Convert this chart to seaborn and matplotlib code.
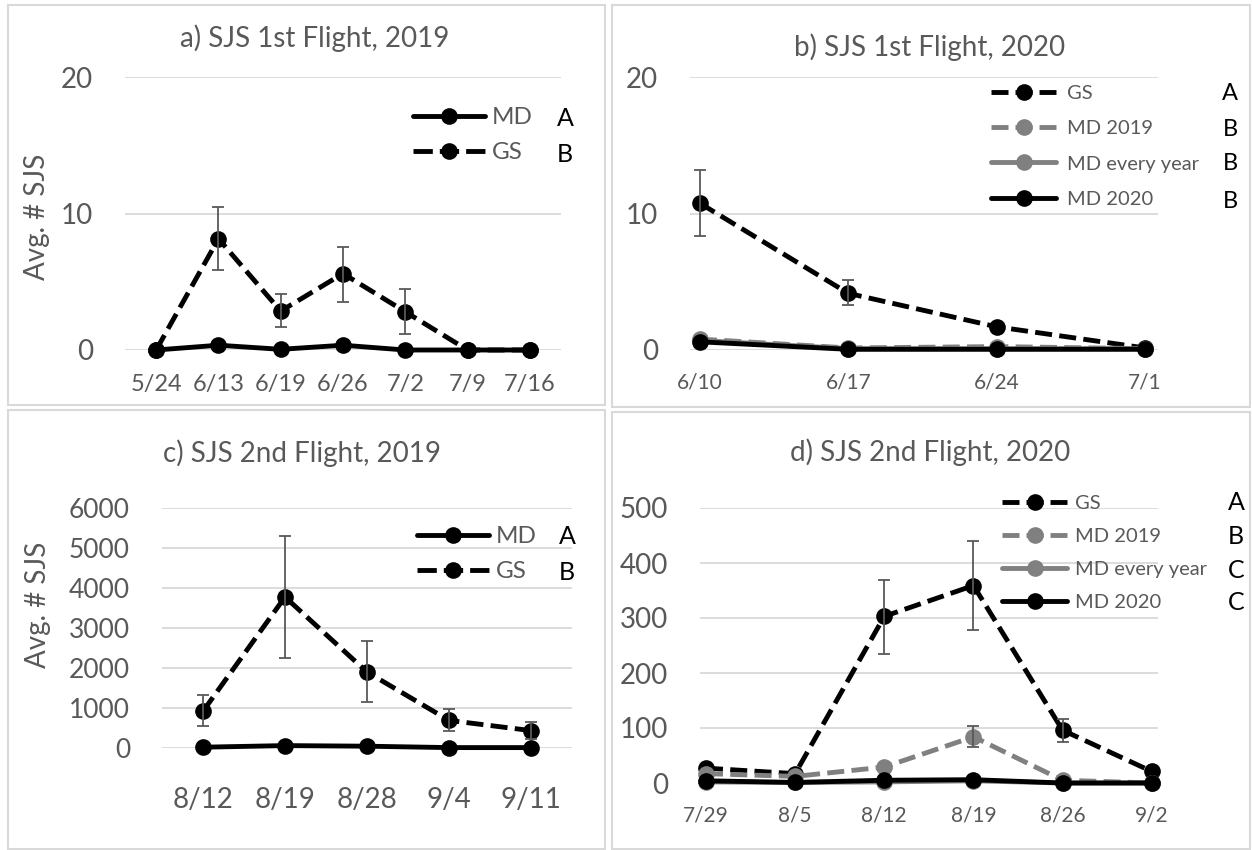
import numpy as np
import pandas as pd
import seaborn as sns
import matplotlib.pyplot as plt
from matplotlib.lines import Line2D
from matplotlib.patches import Rectangle

sns.set_style('white')
plt.rcParams['font.family'] = ['Lato', 'DejaVu Sans']

# ---- data ----
a_dates = ['5/24', '6/13', '6/19', '6/26', '7/2', '7/9', '7/16']
a_md = [0, 0.35, 0.05, 0.35, 0, 0, 0]
a_gs = [0, 8.15, 2.85, 5.6, 2.8, 0, 0]
a_gs_top = [np.nan, 10.5, 4.1, 7.55, 4.45, np.nan, np.nan]
a_gs_bot = [np.nan, 5.85, 1.65, 3.55, 1.2, np.nan, np.nan]
a_letters = ['A', 'B']

b_dates = ['6/10', '6/17', '6/24', '7/1']
b_gs = [10.75, 4.15, 1.7, 0.15]
b_gs_top = [13.2, 5.1, np.nan, np.nan]
b_gs_bot = [8.35, 3.3, np.nan, np.nan]
b_md2019 = [0.8, 0.15, 0.25, 0.1]
b_mdevery = [0.7, 0.1, 0.1, 0.1]
b_md2020 = [0.6, 0.05, 0.05, 0.05]
b_letters = ['A', 'B', 'B', 'B']

c_dates = ['8/12', '8/19', '8/28', '9/4', '9/11']
c_md = [20, 60, 45, 10, 10]
c_gs = [920, 3775, 1900, 690, 435]
c_gs_top = [1335, 5300, 2680, 985, 650]
c_gs_bot = [540, 2250, 1150, 415, 235]
c_letters = ['A', 'B']

d_dates = ['7/29', '8/5', '8/12', '8/19', '8/26', '9/2']
d_gs = [27, 17, 303, 359, 96, 21]
d_gs_top = [np.nan, np.nan, 370, 440, 117, np.nan]
d_gs_bot = [np.nan, np.nan, 234, 279, 74, np.nan]
d_md2019 = [17, 12, 29, 84, 5, 0]
d_md2019_top = [np.nan, np.nan, np.nan, 103, np.nan, np.nan]
d_md2019_bot = [np.nan, np.nan, np.nan, 65, np.nan, np.nan]
d_mdevery = [2, 1, 2, 4, 0, 0]
d_md2020 = [4, 1, 5, 6, 0, 0]
d_letters = ['A', 'B', 'C', 'C']

# ---- styling ----
W, H = 1252, 850
GRAY = '#595959'
GRID = '#d9d9d9'
MID = '#808080'
LW = 3.5
MS = 12
DASH = (3.5, 1.5)
colors = {'MD': 'black', 'GS': 'black', 'MD 2019': MID,
          'MD every year': MID, 'MD 2020': 'black'}
dashes = {'MD': '', 'GS': DASH, 'MD 2019': DASH,
          'MD every year': '', 'MD 2020': ''}

fig = plt.figure(figsize=(12.52, 8.5), dpi=100)


def px_box(l, t, r, b):
    return [l / W, 1 - b / H, (r - l) / W, (b - t) / H]


def draw_panel(ax, dates, series, order, errs, ylim, yticks, xlim,
               xfs, yfs, xpad, ypad):
    rows = []
    for name in order:
        for i, v in enumerate(series[name]):
            rows.append({'pos': i, 'value': v, 'series': name})
    df = pd.DataFrame(rows)
    sns.lineplot(data=df, x='pos', y='value', hue='series', style='series',
                 hue_order=order, style_order=order,
                 palette={k: colors[k] for k in order},
                 dashes={k: dashes[k] for k in order},
                 markers={k: 'o' for k in order},
                 markersize=MS, markeredgewidth=0, linewidth=LW,
                 legend=False, errorbar=None, sort=False,
                 clip_on=False, ax=ax)
    for mid, top, bot in errs:
        mid = np.array(mid, float)
        top = np.array(top, float)
        bot = np.array(bot, float)
        ok = ~np.isnan(top)
        xs = np.arange(len(mid))[ok]
        ax.errorbar(xs, mid[ok], yerr=[mid[ok] - bot[ok], top[ok] - mid[ok]],
                    fmt='none', ecolor=GRAY, elinewidth=1.3, capsize=4,
                    capthick=1.3, zorder=5, clip_on=False)
    ax.set_xlim(*xlim)
    ax.set_ylim(*ylim)
    ax.set_yticks(yticks)
    ax.set_xticks(range(len(dates)))
    ax.set_xticklabels(dates)
    ax.set_xlabel('')
    ax.set_ylabel('')
    ax.yaxis.grid(True, color=GRID, lw=1.3)
    ax.set_axisbelow(True)
    for s in ax.spines.values():
        s.set_visible(False)
    ax.tick_params(axis='x', length=0, labelsize=xfs, labelcolor=GRAY, pad=xpad)
    ax.tick_params(axis='y', length=0, labelsize=yfs, labelcolor=GRAY, pad=ypad)
    ax.patch.set_alpha(0)


def add_legend(ax, order, letters, x0, top, fs, ls, hl, htp, letter_x, rows_y,
               letter_fs):
    # symmetric "dash - marker - dash" look for the dashed handles
    L = hl * fs / 72 * 100
    lw_px = LW / 72 * 100
    g = 7
    d = (L - 2 * g) / 3
    hdash = (0, (d / lw_px, g / lw_px, d / lw_px, g / lw_px))
    handles = [Line2D([], [], color=colors[k], lw=LW,
                      linestyle='-' if dashes[k] == '' else hdash,
                      marker='o', markersize=MS, markeredgewidth=0)
               for k in order]
    ax.legend(handles, order, loc='upper left',
              bbox_to_anchor=(x0 / W, 1 - top / H), bbox_transform=fig.transFigure,
              frameon=False, fontsize=fs, labelcolor=GRAY, labelspacing=ls,
              handlelength=hl, handletextpad=htp, borderpad=0, borderaxespad=0)
    for lt, y in zip(letters, rows_y):
        fig.text(letter_x / W, 1 - y / H, lt, ha='center', va='center',
                 fontsize=letter_fs, color='black')


# ---- panel a ----
ax_a = fig.add_axes(px_box(125, 77, 561, 350))
draw_panel(ax_a, a_dates, {'MD': a_md, 'GS': a_gs}, ['GS', 'MD'],
           [(a_gs, a_gs_top, a_gs_bot)], (0, 20), [0, 10, 20], (-0.5, 6.5),
           17, 20, 17, 23)
add_legend(ax_a, ['MD', 'GS'], a_letters, 413, 107, 17.5, 0.58, 2.96, 0.3,
           565, [118, 155], 18)

# ---- panel b ----
ax_b = fig.add_axes(px_box(690, 77, 1158, 350))
b_order = ['GS', 'MD 2019', 'MD every year', 'MD 2020']
draw_panel(ax_b, b_dates, {'GS': b_gs, 'MD 2019': b_md2019,
                           'MD every year': b_mdevery, 'MD 2020': b_md2020},
           b_order, [(b_gs, b_gs_top, b_gs_bot)], (0, 20), [0, 10, 20],
           (-0.067, 3.088), 15, 20, 16, 23)
add_legend(ax_b, b_order, b_letters, 991, 85, 14.5, 0.9, 3.23, 0.55,
           1230, [93, 129, 164, 201], 17)

# ---- panel c ----
ax_c = fig.add_axes(px_box(162, 508, 572, 748))
draw_panel(ax_c, c_dates, {'MD': c_md, 'GS': c_gs}, ['GS', 'MD'],
           [(c_gs, c_gs_top, c_gs_bot)], (0, 6000), range(0, 7000, 1000),
           (-0.5, 4.5), 20, 19, 28, 23)
ax_c.set_xticks(np.arange(-0.5, 5, 1), minor=True)
ax_c.tick_params(axis='x', which='minor', length=8, width=1.3, color=GRID,
                 direction='out')
add_legend(ax_c, ['MD', 'GS'], c_letters, 417, 526, 17.5, 0.58, 2.96, 0.3,
           567, [537, 573], 18)

# ---- panel d ----
ax_d = fig.add_axes(px_box(700, 508, 1158, 783))
d_order = ['GS', 'MD 2019', 'MD every year', 'MD 2020']
draw_panel(ax_d, d_dates, {'GS': d_gs, 'MD 2019': d_md2019,
                           'MD every year': d_mdevery, 'MD 2020': d_md2020},
           d_order, [(d_gs, d_gs_top, d_gs_bot),
                     (d_md2019, d_md2019_top, d_md2019_bot)],
           (0, 500), range(0, 600, 100), (-0.067, 5.07), 15, 20, 16, 23)
add_legend(ax_d, d_order, d_letters, 1002, 495, 14.5, 0.79, 3.23, 0.4,
           1236, [503, 537, 570, 603], 18)

# ---- titles, axis labels, panel frames ----
titles = ['a) SJS 1st Flight, 2019', 'b) SJS 1st Flight, 2020',
          'c) SJS 2nd Flight, 2019', 'd) SJS 2nd Flight, 2020']
title_xy = [(315, 38), (930, 47), (302, 453), (930, 452)]
for t, (x, y) in zip(titles, title_xy):
    fig.text(x / W, 1 - y / H, t, ha='center', va='center', fontsize=20,
             color=GRAY)
for x, y in [(37, 217), (38, 605)]:
    fig.text(x / W, 1 - y / H, 'Avg. # SJS', ha='center', va='center',
             rotation=90, fontsize=20, color=GRAY)

for l, t, r, b in [(8, 5, 605, 405), (612, 5, 1250, 407),
                   (8, 410, 605, 849), (612, 412, 1250, 849)]:
    fig.patches.append(Rectangle((l / W, 1 - b / H), (r - l) / W, (b - t) / H,
                                 transform=fig.transFigure, fill=False,
                                 edgecolor=GRID, lw=1.5))

fig.savefig('out.png', dpi=100)
